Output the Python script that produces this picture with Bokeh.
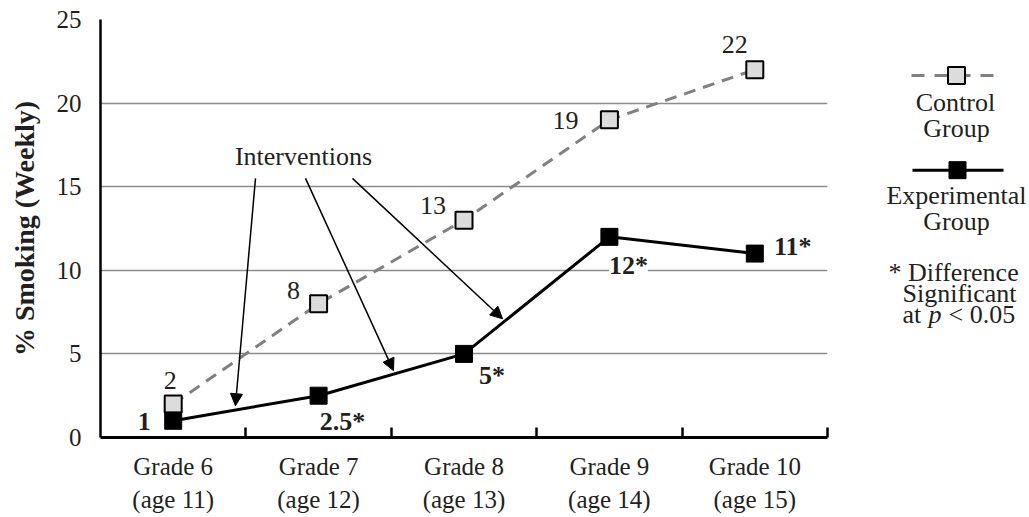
from bokeh.plotting import figure
from bokeh.models import Range1d, FixedTicker, ColumnDataSource, Arrow, NormalHead, Label
from bokeh.layouts import row
from bokeh.core.properties import value
from bokeh.embed import file_html
from bokeh.resources import INLINE

# ---------------- data ----------------
grades = ["Grade 6\n(age 11)", "Grade 7\n(age 12)", "Grade 8\n(age 13)",
          "Grade 9\n(age 14)", "Grade 10\n(age 15)"]
control = [2, 8, 13, 19, 22]
experimental = [1, 2.5, 5, 12, 11]
control_labels = ["2", "8", "13", "19", "22"]
experimental_labels = ["1", "2.5*", "5*", "12*", "11*"]
y_ticks = [0, 5, 10, 15, 20, 25]

# ---------------- styles / annotation placement ----------------
FONT = "Liberation Serif"
TXT = "#231f20"
ctrl_dx = [-3, -25, -31, -44, -20]
ctrl_dy = [-24, -13, -15, 1, -25]
exp_dx = [-29, 24, 28, 19, 38]
exp_dy = [1, 26, 22, 29, -7]
# arrows (data units): start -> end
arrow_x0 = [1.066, 1.41, 1.733]
arrow_y0 = [15.5, 15.5, 15.5]
arrow_x1 = [0.928, 2.015, 2.765]
arrow_y1 = [1.9, 4.0, 7.1]

xc = [i + 0.5 for i in range(len(grades))]
src = ColumnDataSource(dict(x=xc, control=control, experimental=experimental,
                            clab=control_labels, elab=experimental_labels,
                            cdx=ctrl_dx, cdy=ctrl_dy, edx=exp_dx, edy=exp_dy))

H = 516
W = 848
p = figure(width=W, height=H, x_range=Range1d(0, len(grades)), y_range=Range1d(0, 25),
           toolbar_location=None, output_backend="svg",
           min_border_left=100, min_border_right=W - 827, min_border_top=19,
           min_border_bottom=H - 439)
p.outline_line_color = None
p.background_fill_color = "white"
p.border_fill_color = "white"

# y axis
p.yaxis.ticker = FixedTicker(ticks=y_ticks)
p.yaxis.major_tick_line_color = None
p.yaxis.minor_tick_line_color = None
p.yaxis.axis_line_width = 2.5
p.yaxis.axis_line_color = "black"
p.yaxis.major_label_text_font = FONT
p.yaxis.major_label_text_font_size = "25px"
p.yaxis.major_label_text_color = TXT
p.yaxis.major_label_standoff = 13
p.yaxis.axis_label = "% Smoking (Weekly)"
p.yaxis.axis_label_text_font = FONT
p.yaxis.axis_label_text_font_style = "bold"
p.yaxis.axis_label_text_font_size = "28px"
p.yaxis.axis_label_text_color = TXT
p.yaxis.axis_label_standoff = 14

# x axis
p.xaxis.ticker = FixedTicker(ticks=xc, minor_ticks=[i + 1 for i in range(len(grades))])
p.xaxis.major_label_overrides = {x: g for x, g in zip(xc, grades)}
p.xaxis.major_tick_in = 0
p.xaxis.major_tick_out = 0
p.xaxis.major_tick_line_color = None
p.xaxis.minor_tick_in = 10
p.xaxis.minor_tick_out = 0
p.xaxis.minor_tick_line_width = 2.5
p.xaxis.minor_tick_line_color = "black"
p.xaxis.axis_line_width = 3
p.xaxis.axis_line_color = "black"
p.xaxis.major_label_text_font = FONT
p.xaxis.major_label_text_font_size = "25px"
p.xaxis.major_label_text_color = TXT
p.xaxis.major_label_text_line_height = 1.25
p.xaxis.major_label_standoff = 15

# grid
p.xgrid.grid_line_color = None
p.ygrid.ticker = FixedTicker(ticks=y_ticks[1:])
p.ygrid.grid_line_color = "#8c8c8c"
p.ygrid.grid_line_width = 1.5

# lines and markers
p.line("x", "control", source=src, line_dash="12 8", line_width=3, line_color="#808080")
p.line("x", "experimental", source=src, line_width=3, line_color="black")
p.scatter("x", "control", source=src, marker="square", size=17,
          fill_color="#dcdcdc", line_color="black", line_width=2)
p.scatter("x", "experimental", source=src, marker="square", size=17,
          fill_color="black", line_color="black", line_width=1)

# value labels
p.text("x", "control", text="clab", source=src, x_offset="cdx", y_offset="cdy",
       text_align="center", text_baseline="middle", text_font=value(FONT),
       text_font_size="26px", text_color=TXT)
p.text("x", "experimental", text="elab", source=src, x_offset="edx", y_offset="edy",
       text_align="center", text_baseline="middle", text_font=value(FONT),
       text_font_size="26px", text_font_style="bold", text_color=TXT,
       background_fill_color="white")

# interventions
p.add_layout(Label(x=1.396, y=16.79, text="Interventions", text_align="center",
                   text_baseline="middle", text_font=FONT, text_font_size="26px",
                   text_color=TXT))
for x0, y0, x1, y1 in zip(arrow_x0, arrow_y0, arrow_x1, arrow_y1):
    p.add_layout(Arrow(end=NormalHead(size=12, fill_color="black", line_color="black",
                                      line_width=1),
                       x_start=x0, y_start=y0, x_end=x1, y_end=y1,
                       line_width=1.5, line_color="black"))

# ---------------- legend panel ----------------
LW = 179
lg = figure(width=LW, height=H, x_range=Range1d(0, LW), y_range=Range1d(H, 0),
            toolbar_location=None, output_backend="svg", x_axis_type=None, y_axis_type=None,
            min_border=0)
lg.outline_line_color = None
lg.grid.visible = False
lg.line([63, 147], [69, 69], line_dash="13 10", line_width=3, line_color="#808080")
lg.scatter([108], [69], marker="square", size=17, fill_color="#dcdcdc",
           line_color="black", line_width=2)
lg.line([64, 155], [186, 186], line_width=3, line_color="black")
lg.scatter([109], [186], marker="square", size=17, fill_color="black", line_color="black")
common = dict(text_font=value(FONT), text_font_size="26px", text_color=TXT,
              text_baseline="middle")
lg.text([107, 108], [103, 135], text=["Control", "Group"], text_align="center", **common)
lg.text([108, 108], [217, 249], text=["Experimental", "Group"], text_align="center", **common)
lg.text([40, 54], [312, 338], text=["* Difference", "Significant"], text_align="left", **common)
lg.text([54], [364], text=["at"], text_align="left", **common)
lg.text([80], [364], text=["p"], text_align="left", text_font_style="italic", **common)
lg.text([100], [364], text=["< 0.05"], text_align="left", **common)

layout = row(p, lg)
open("out.html", "w").write(file_html(layout, INLINE))
